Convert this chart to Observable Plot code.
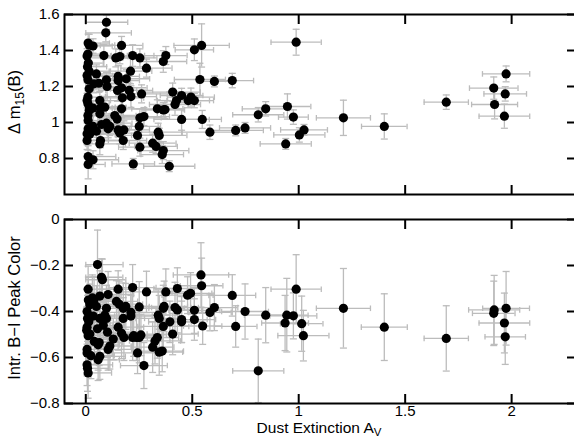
<!DOCTYPE html>
<html><head><meta charset="utf-8">
<script src="https://cdn.jsdelivr.net/npm/d3@7"></script>
<script src="https://cdn.jsdelivr.net/npm/@observablehq/plot@0.6"></script>
<style>
body{margin:0;background:#fff;}
#chart svg{display:block;}
</style>
</head><body><div id="chart"></div>
<script>
// ---------- Top panel: Δm15(B) vs A_V ----------
const topAv = [0.097,0.094,0.011,0.016,0.034,0.168,0.510,0.544,0.010,0.006,0.012,0.008,0.016,0.085,0.141,0.160,0.220,0.254,0.376,0.364,0.285,0.210,0.050,0.006,0.152,0.190,0.010,0.097,0.038,0.061,0.536,0.604,0.688,0.100,0.152,0.016,0.168,0.149,0.204,0.262,0.408,0.450,0.426,0.419,0.481,0.494,0.510,0.172,0.212,0.010,0.006,0.010,0.018,0.016,0.010,0.011,0.066,0.069,0.034,0.089,0.168,0.336,0.364,0.372,0.810,0.845,0.947,0.975,0.136,0.147,0.066,0.254,0.273,0.450,0.547,0.074,0.034,0.050,0.097,0.113,0.011,0.006,0.018,0.251,0.152,0.179,0.160,0.105,0.340,0.345,0.243,0.583,0.704,0.748,1.003,1.025,0.939,0.006,0.176,0.069,0.066,0.254,0.314,0.330,0.364,0.359,0.011,0.034,0.011,0.223,0.392,0.988,1.210,1.402,1.693,1.974,1.916,1.970,1.920,1.966];
const topDm15 = [1.557,1.498,1.441,1.430,1.425,1.428,1.404,1.428,1.380,1.370,1.330,1.310,1.285,1.372,1.359,1.366,1.372,1.359,1.372,1.339,1.302,1.285,1.270,1.261,1.256,1.243,1.237,1.237,1.215,1.218,1.239,1.228,1.233,1.200,1.233,1.187,1.193,1.178,1.178,1.159,1.169,1.150,1.122,1.100,1.122,1.141,1.122,1.137,1.144,1.141,1.122,1.104,1.085,1.067,1.039,1.011,1.122,1.081,1.080,1.085,1.076,1.076,1.070,1.072,1.043,1.076,1.089,1.030,1.039,1.019,1.048,1.026,1.033,1.017,1.017,0.989,0.978,0.952,0.996,0.978,0.965,0.937,0.935,0.978,0.959,0.959,0.941,0.965,0.946,0.928,0.928,0.946,0.956,0.970,0.931,0.959,0.881,0.900,0.900,0.900,0.881,0.863,0.885,0.867,0.844,0.822,0.811,0.793,0.767,0.770,0.757,1.446,1.026,0.978,1.113,1.270,1.191,1.159,1.100,1.035];
const topAvErr = [0.10,0.12,0.10,0.12,0.09,0.10,0.09,0.13,0.08,0.11,0.07,0.09,0.10,0.11,0.12,0.09,0.10,0.08,0.10,0.11,0.12,0.10,0.09,0.12,0.10,0.11,0.08,0.10,0.12,0.09,0.12,0.08,0.10,0.11,0.10,0.10,0.12,0.09,0.11,0.12,0.13,0.10,0.09,0.12,0.10,0.11,0.09,0.10,0.12,0.09,0.11,0.10,0.12,0.08,0.10,0.11,0.10,0.12,0.09,0.10,0.11,0.12,0.10,0.09,0.12,0.11,0.11,0.07,0.10,0.09,0.11,0.10,0.12,0.13,0.09,0.10,0.11,0.09,0.12,0.10,0.08,0.10,0.12,0.10,0.11,0.12,0.09,0.10,0.11,0.13,0.10,0.13,0.13,0.12,0.12,0.11,0.12,0.10,0.11,0.09,0.12,0.10,0.11,0.10,0.12,0.10,0.13,0.12,0.08,0.10,0.12,0.118,0.127,0.107,0.104,0.111,0.114,0.10,0.108,0.119];
const topDm15Err = [0.04,0.05,0.05,0.06,0.04,0.05,0.06,0.12,0.05,0.04,0.05,0.06,0.04,0.06,0.05,0.04,0.06,0.05,0.05,0.06,0.05,0.07,0.05,0.04,0.06,0.05,0.06,0.04,0.05,0.05,0.09,0.03,0.04,0.06,0.05,0.05,0.05,0.06,0.04,0.05,0.05,0.04,0.05,0.06,0.04,0.05,0.04,0.05,0.06,0.05,0.04,0.06,0.05,0.05,0.04,0.06,0.05,0.05,0.04,0.06,0.05,0.05,0.04,0.05,0.04,0.04,0.07,0.04,0.05,0.06,0.05,0.05,0.05,0.06,0.05,0.05,0.06,0.05,0.04,0.05,0.05,0.06,0.05,0.05,0.04,0.05,0.06,0.05,0.05,0.04,0.05,0.04,0.03,0.03,0.04,0.03,0.03,0.05,0.05,0.04,0.06,0.05,0.05,0.04,0.05,0.05,0.06,0.05,0.08,0.03,0.03,0.072,0.098,0.07,0.04,0.044,0.062,0.04,0.08,0.067];

// ---------- Bottom panel: intrinsic B−I peak colour vs A_V ----------
const botAv = [0.055,0.074,0.078,0.011,0.152,0.220,0.285,0.376,0.430,0.478,0.492,0.541,0.544,0.688,0.748,0.704,0.549,0.510,0.510,0.604,0.583,0.450,0.450,0.419,0.430,0.408,0.364,0.368,0.395,0.364,0.340,0.345,0.336,0.325,0.314,0.345,0.359,0.273,0.243,0.251,0.238,0.259,0.220,0.225,0.251,0.212,0.212,0.188,0.176,0.144,0.157,0.176,0.152,0.168,0.179,0.129,0.097,0.089,0.105,0.066,0.039,0.050,0.066,0.097,0.082,0.102,0.113,0.105,0.055,0.019,0.063,0.058,0.066,0.058,0.024,0.006,0.006,0.011,0.008,0.014,0.006,0.004,0.019,0.031,0.006,0.008,0.011,0.810,0.845,0.936,0.944,0.975,0.988,1.014,1.022,1.210,1.402,1.693,1.918,1.916,1.974,1.966,1.970,0.006,0.012,0.035,0.040];
const botColor = [-0.196,-0.251,-0.262,-0.303,-0.303,-0.296,-0.315,-0.315,-0.300,-0.329,-0.321,-0.241,-0.288,-0.330,-0.400,-0.465,-0.463,-0.395,-0.435,-0.383,-0.404,-0.435,-0.445,-0.383,-0.393,-0.498,-0.386,-0.378,-0.445,-0.465,-0.416,-0.430,-0.513,-0.528,-0.555,-0.577,-0.572,-0.635,-0.580,-0.513,-0.513,-0.502,-0.513,-0.505,-0.380,-0.404,-0.420,-0.378,-0.386,-0.356,-0.368,-0.430,-0.468,-0.495,-0.513,-0.520,-0.386,-0.416,-0.326,-0.333,-0.348,-0.378,-0.430,-0.430,-0.460,-0.490,-0.550,-0.565,-0.475,-0.498,-0.535,-0.545,-0.595,-0.610,-0.592,-0.565,-0.580,-0.505,-0.430,-0.445,-0.468,-0.482,-0.371,-0.341,-0.632,-0.647,-0.667,-0.658,-0.416,-0.450,-0.416,-0.419,-0.303,-0.453,-0.505,-0.386,-0.468,-0.517,-0.393,-0.408,-0.386,-0.450,-0.510,-0.400,-0.350,-0.420,-0.530];
const botAvErr = [0.12,0.10,0.11,0.12,0.10,0.11,0.12,0.10,0.11,0.12,0.10,0.13,0.10,0.11,0.11,0.10,0.09,0.12,0.10,0.11,0.10,0.12,0.10,0.11,0.10,0.12,0.10,0.11,0.10,0.12,0.10,0.11,0.10,0.12,0.10,0.11,0.10,0.11,0.12,0.10,0.11,0.12,0.10,0.11,0.10,0.12,0.10,0.11,0.12,0.10,0.11,0.10,0.12,0.10,0.11,0.12,0.10,0.11,0.12,0.10,0.11,0.12,0.10,0.11,0.10,0.12,0.10,0.11,0.12,0.10,0.11,0.10,0.12,0.10,0.11,0.10,0.12,0.10,0.11,0.10,0.12,0.10,0.11,0.10,0.12,0.10,0.11,0.12,0.10,0.11,0.10,0.11,0.118,0.10,0.12,0.127,0.108,0.104,0.12,0.10,0.11,0.119,0.095,0.10,0.11,0.10,0.12];
const botColorErr = [0.15,0.08,0.09,0.10,0.08,0.10,0.09,0.10,0.09,0.08,0.09,0.14,0.12,0.09,0.12,0.09,0.08,0.10,0.09,0.10,0.08,0.10,0.09,0.11,0.10,0.09,0.10,0.11,0.09,0.10,0.11,0.10,0.09,0.10,0.11,0.10,0.09,0.10,0.09,0.11,0.10,0.09,0.10,0.09,0.11,0.10,0.09,0.10,0.11,0.09,0.10,0.09,0.10,0.11,0.10,0.09,0.10,0.09,0.10,0.11,0.10,0.09,0.10,0.09,0.10,0.11,0.10,0.09,0.10,0.09,0.10,0.11,0.10,0.09,0.10,0.11,0.10,0.09,0.10,0.11,0.09,0.10,0.09,0.10,0.09,0.10,0.11,0.138,0.12,0.12,0.16,0.10,0.15,0.12,0.11,0.173,0.145,0.142,0.15,0.14,0.16,0.13,0.12,0.10,0.10,0.10,0.10];

const xTicks = [0, 0.5, 1, 1.5, 2];
const topYTicks = [0.8, 1, 1.2, 1.4, 1.6];
const botYTicks = [-0.8, -0.6, -0.4, -0.2, 0];

const FONT = "'Liberation Sans', Arial, Helvetica, sans-serif";
const GRAY = "#bcbcbc";
const fmt = d => d < 0 ? "\u2212" + Math.abs(d) : String(d);

const capH = {draw(ctx, size){ const r = Math.sqrt(size / Math.PI); ctx.moveTo(-r, 0); ctx.lineTo(r, 0); }};
const capV = {draw(ctx, size){ const r = Math.sqrt(size / Math.PI); ctx.moveTo(0, -r); ctx.lineTo(0, r); }};

function panel({x, y, xe, ye, yDomain, yTicks, height, marginTop, marginBottom, xLabels}) {
  const rows = x.map((v, i) => ({
    x: v, y: y[i],
    x1: Math.max(0, v - xe[i]), x2: v + xe[i],
    y1: y[i] - ye[i], y2: y[i] + ye[i]
  }));
  const marks = [
    Plot.ruleY(rows, {y: "y", x1: "x1", x2: "x2", stroke: GRAY, strokeWidth: 1.3}),
    Plot.ruleX(rows, {x: "x", y1: "y1", y2: "y2", stroke: GRAY, strokeWidth: 1.3}),
    Plot.dot(rows, {x: "x1", y: "y", symbol: capV, r: 2.8, stroke: GRAY, strokeWidth: 1.3, fill: "none"}),
    Plot.dot(rows, {x: "x2", y: "y", symbol: capV, r: 2.8, stroke: GRAY, strokeWidth: 1.3, fill: "none"}),
    Plot.dot(rows, {x: "x", y: "y1", symbol: capH, r: 3.5, stroke: GRAY, strokeWidth: 1.3, fill: "none"}),
    Plot.dot(rows, {x: "x", y: "y2", symbol: capH, r: 3.5, stroke: GRAY, strokeWidth: 1.3, fill: "none"}),
    Plot.dot(rows, {x: "x", y: "y", r: 4.6, fill: "black", stroke: "none"}),
    Plot.frame({stroke: "black", strokeWidth: 2}),
    Plot.axisX(xTicks, {anchor: "bottom", tickSize: -9, strokeWidth: 2, tickFormat: () => "", label: null}),
    Plot.axisX(xTicks, {anchor: "top", tickSize: -9, strokeWidth: 2, tickFormat: () => "", label: null}),
    Plot.axisY(yTicks, {anchor: "left", tickSize: -9, strokeWidth: 2, tickFormat: () => "", label: null}),
    Plot.axisY(yTicks, {anchor: "right", tickSize: -9, strokeWidth: 2, tickFormat: () => "", label: null}),
    Plot.axisY(yTicks, {anchor: "left", tickSize: 0, tickPadding: 5, tickFormat: fmt, label: null})
  ];
  if (xLabels) marks.push(Plot.axisX(xTicks, {anchor: "bottom", tickSize: 0, tickPadding: 2, tickFormat: fmt, label: null}));
  return Plot.plot({
    width: 574, height,
    marginLeft: 64, marginRight: -1, marginTop, marginBottom,
    x: {domain: [-0.1, 2.3]},
    y: {domain: yDomain},
    style: {fontFamily: FONT, fontSize: "15px", color: "black", background: "white", overflow: "visible"},
    marks
  });
}

const topSvg = panel({x: topAv, y: topDm15, xe: topAvErr, ye: topDm15Err,
  yDomain: [0.6, 1.6], yTicks: topYTicks, height: 205, marginTop: 14, marginBottom: 11, xLabels: false});
const botSvg = panel({x: botAv, y: botColor, xe: botAvErr, ye: botColorErr,
  yDomain: [-0.8, 0], yTicks: botYTicks, height: 232, marginTop: 14, marginBottom: 34, xLabels: true});

const chart = document.getElementById("chart");
chart.appendChild(topSvg);
chart.appendChild(botSvg);

// Axis titles with subscripts
const t1 = d3.select(topSvg).append("text")
  .attr("transform", "translate(20,102) rotate(-90)")
  .attr("text-anchor", "middle").attr("font-size", 16.5).attr("font-family", FONT).attr("fill", "black");
t1.append("tspan").text("\u0394 m");
t1.append("tspan").attr("dy", 4).attr("font-size", 12).text("15");
t1.append("tspan").attr("dy", -4).text("(B)");

d3.select(botSvg).append("text")
  .attr("transform", "translate(20,103) rotate(-90)")
  .attr("text-anchor", "middle").attr("font-size", 16.5).attr("font-family", FONT).attr("fill", "black")
  .text("Intr. B\u2212I Peak Color");

const t3 = d3.select(botSvg).append("text")
  .attr("x", 319).attr("y", 227.5)
  .attr("text-anchor", "middle").attr("font-size", 15.5).attr("font-family", FONT).attr("fill", "black");
t3.append("tspan").text("Dust Extinction A");
t3.append("tspan").attr("dy", 3).attr("font-size", 11.5).text("V");
</script>
</body></html>
